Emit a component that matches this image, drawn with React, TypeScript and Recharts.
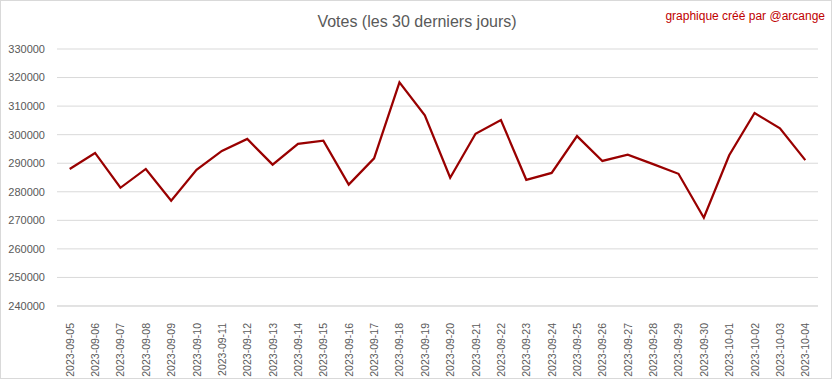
import React from "react";
import { LineChart, Line, XAxis, YAxis, CartesianGrid } from "recharts";

const dates = [
  "2023-09-05", "2023-09-06", "2023-09-07", "2023-09-08", "2023-09-09", "2023-09-10",
  "2023-09-11", "2023-09-12", "2023-09-13", "2023-09-14", "2023-09-15", "2023-09-16",
  "2023-09-17", "2023-09-18", "2023-09-19", "2023-09-20", "2023-09-21", "2023-09-22",
  "2023-09-23", "2023-09-24", "2023-09-25", "2023-09-26", "2023-09-27", "2023-09-28",
  "2023-09-29", "2023-09-30", "2023-10-01", "2023-10-02", "2023-10-03", "2023-10-04",
];

const votes = [
  288000, 293600, 281400, 288000, 276900, 287700,
  294300, 298500, 289500, 296800, 297900, 282500,
  291700, 318300, 306800, 284900, 300300, 305100,
  284200, 286600, 299500, 290800, 293000, 289700,
  286300, 270900, 292800, 307600, 302200, 291100,
];

const yTicks = [240000, 250000, 260000, 270000, 280000, 290000, 300000, 310000, 320000, 330000];

const title = "Votes (les 30 derniers jours)";
const credit = "graphique créé par @arcange";

const data = dates.map((d, i) => ({ date: d, votes: votes[i] }));

const FONT = "'Liberation Sans', Arial, sans-serif";

const XTick = (props: any) => {
  const { x, y, payload } = props;
  return (
    <text
      transform={`translate(${x},${y + 9}) rotate(-90)`}
      textAnchor="end"
      dominantBaseline="central"
      fontSize={10.5}
      fontFamily={FONT}
      fill="#595959"
    >
      {payload.value}
    </text>
  );
};

export default function App() {
  return (
    <div
      style={{
        position: "absolute",
        left: 0,
        top: 0,
        width: 832,
        height: 379,
        background: "#fff",
        boxSizing: "border-box",
        border: "1px solid #d9d9d9",
      }}
    >
      <div
        style={{
          position: "absolute",
          left: 0,
          width: 832,
          top: 12,
          textAlign: "center",
          fontFamily: FONT,
          fontSize: 16,
          color: "#595959",
        }}
      >
        {title}
      </div>
      <div
        style={{
          position: "absolute",
          right: 6,
          top: 8,
          fontFamily: FONT,
          fontSize: 12,
          color: "#c00000",
        }}
      >
        {credit}
      </div>
      <div style={{ position: "absolute", left: -1, top: -1 }}>
        <LineChart
          width={832}
          height={379}
          data={data}
          margin={{ top: 49, right: 14, left: 0, bottom: 0 }}
        >
          <CartesianGrid vertical={false} stroke="#d9d9d9" strokeWidth={1} />
          <XAxis
            dataKey="date"
            height={73}
            interval={0}
            padding={{ left: 12.7, right: 12.7 }}
            tickLine={false}
            axisLine={{ stroke: "#d9d9d9" }}
            tick={<XTick />}
          />
          <YAxis
            width={57}
            domain={[240000, 330000]}
            ticks={yTicks}
            tickLine={false}
            axisLine={false}
            tickSize={0}
            tickMargin={12}
            tick={{ fill: "#595959", fontSize: 11, fontFamily: FONT }}
          />
          <Line
            type="linear"
            dataKey="votes"
            stroke="#990000"
            strokeWidth={2.25}
            dot={false}
            isAnimationActive={false}
          />
        </LineChart>
      </div>
    </div>
  );
}
